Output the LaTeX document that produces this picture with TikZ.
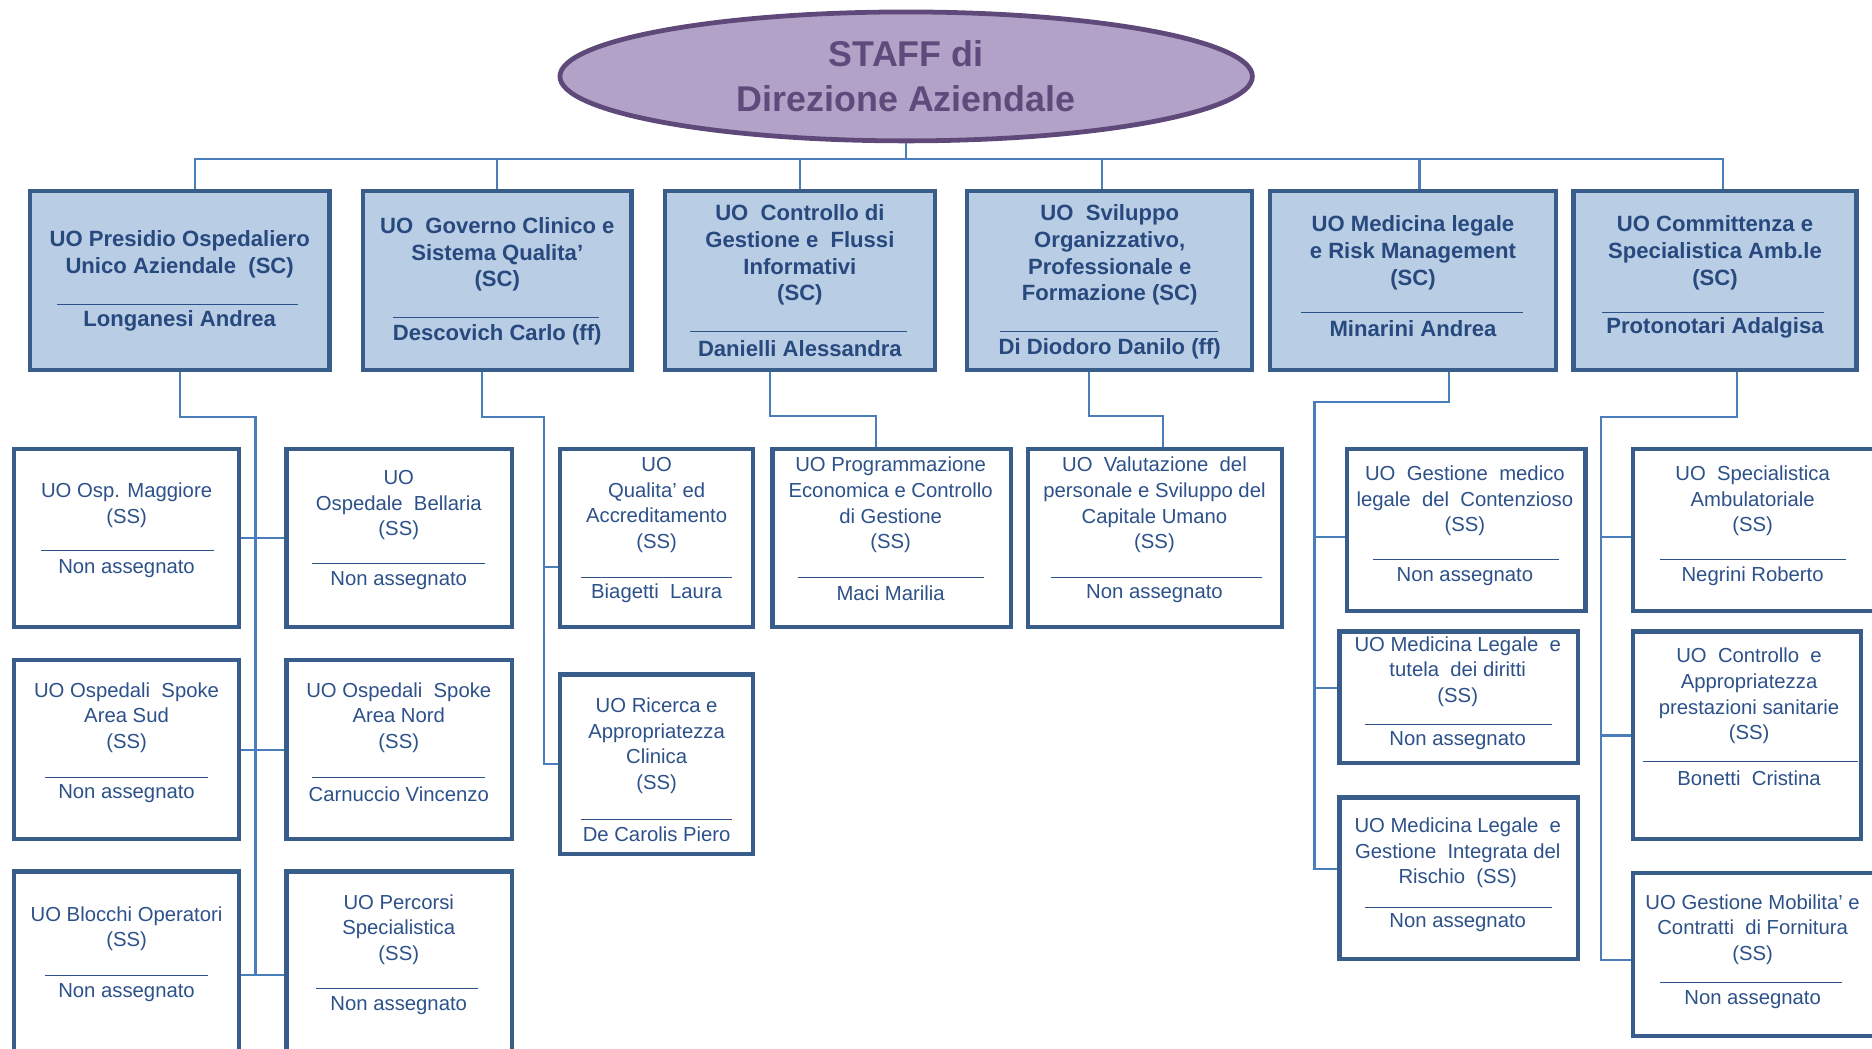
\documentclass[tikz,border=0pt]{standalone}
\usepackage{fontspec}
\setmainfont{Liberation Sans}
\usetikzlibrary{shapes}
\tikzset{>=latex}
\definecolor{boxline}{HTML}{385D8A}
\definecolor{boxfill}{HTML}{B9CDE5}
\definecolor{linkcol}{HTML}{4A7EBB}
\definecolor{sctxt}{HTML}{27497E}
\definecolor{sstxt}{HTML}{2D5189}
\definecolor{staffill}{HTML}{B2A2C7}
\definecolor{staffline}{HTML}{5F497A}
\definecolor{stafftxt}{HTML}{5F4A7C}
\tikzstyle{staff}=[ellipse,draw=staffline,fill=staffill,line width=4pt,minimum width=580pt,minimum height=108pt,text=stafftxt,align=center,font=\fontsize{30}{38}\selectfont\bfseries]
\tikzstyle{scbox}=[rectangle,draw=boxline,fill=boxfill,line width=3.5pt,minimum height=150pt]
\tikzstyle{ssbox}=[rectangle,draw=boxline,fill=white,line width=3.5pt]
\tikzstyle{sctext}=[inner sep=0pt,align=center,text=sctxt,font=\fontsize{18.5}{22.5}\selectfont\bfseries]
\tikzstyle{sstext}=[inner sep=0pt,align=center,text=sstxt,font=\fontsize{17}{21.5}\selectfont]
\tikzstyle{uolink}=[draw=linkcol,line width=1.8pt]
\tikzstyle{sepline}=[draw=sstxt,line width=0.8pt]

\begin{document}
\begin{tikzpicture}[x=1pt,y=1pt]
	\useasboundingbox (0,0) rectangle (1568,-878);
	\clip (0,0) rectangle (1568,-878);

	\node[staff] (staff) at (759,-64) {STAFF di\\Direzione Aziendale};

	\node[scbox, minimum width=251pt] (presidio) at (150.5,-235) {};
	\node[scbox, minimum width=225pt] (governo) at (416.5,-235) {};
	\node[scbox, minimum width=226pt] (controllo) at (670,-235) {};
	\node[scbox, minimum width=239pt] (sviluppo) at (929.5,-235) {};
	\node[scbox, minimum width=239pt] (medicina) at (1183.5,-235) {};
	\node[scbox, minimum width=237pt] (committenza) at (1436.5,-235) {};

	\node[sctext] (presidiot) at (150.5,-213) {UO Presidio Ospedaliero\\Unico Aziendale \ (SC)};
	\draw[sepline] (48,-255) -- (250,-255);
	\node[sctext] (presidion) at (150.5,-269) {Longanesi Andrea};
	\node[sctext] (governot) at (416.5,-213) {UO \ Governo Clinico e\\Sistema Qualita’\\(SC)};
	\draw[sepline] (329,-266) -- (502,-266);
	\node[sctext] (governon) at (416.5,-280) {Descovich Carlo (ff)};
	\node[sctext] (controllot) at (670,-213.5) {UO \ Controllo di\\Gestione e \ Flussi\\Informativi\\(SC)};
	\draw[sepline] (578,-278) -- (760,-278);
	\node[sctext] (controllon) at (670,-292) {Danielli Alessandra};
	\node[sctext] (sviluppot) at (929.5,-213.5) {UO \ Sviluppo\\Organizzativo,\\Professionale e\\Formazione (SC)};
	\draw[sepline] (838,-278) -- (1020,-278);
	\node[sctext] (sviluppon) at (929.5,-292) {Di Diodoro Danilo (ff)};
	\node[sctext] (medicinat) at (1183.5,-211.5) {UO Medicina legale\\e Risk Management\\(SC)};
	\draw[sepline] (1090,-262) -- (1276,-262);
	\node[sctext] (medicinan) at (1183.5,-275) {Minarini Andrea};
	\node[sctext] (committenzat) at (1436.5,-211.5) {UO Committenza e\\Specialistica Amb.le\\(SC)};
	\draw[sepline] (1342,-262) -- (1528,-262);
	\node[sctext] (committenzan) at (1436.5,-275) {Protonotari Adalgisa};

	\node[ssbox, minimum width=188pt, minimum height=149pt] (maggiore) at (106,-450.5) {};
	\node[sstext] (maggioret) at (106,-423) {UO Osp. Maggiore\\(SS)};
	\draw[sepline] (34,-461) -- (179,-461);
	\node[sstext] (maggioren) at (106,-476) {Non assegnato};
	\node[ssbox, minimum width=188pt, minimum height=150pt] (spokesud) at (106,-628) {};
	\node[sstext] (spokesudt) at (106,-601) {UO Ospedali \ Spoke\\Area Sud\\(SS)};
	\draw[sepline] (38,-651) -- (174,-651);
	\node[sstext] (spokesudn) at (106,-665) {Non assegnato};
	\node[ssbox, minimum width=188pt, minimum height=174pt] (blocchi) at (106,-817) {};
	\node[sstext] (blocchit) at (106,-778) {UO Blocchi Operatori\\(SS)};
	\draw[sepline] (38,-817) -- (174,-817);
	\node[sstext] (blocchin) at (106,-831) {Non assegnato};

	\node[ssbox, minimum width=189pt, minimum height=149pt] (bellaria) at (334.5,-450.5) {};
	\node[sstext] (bellariat) at (334,-423) {UO\\Ospedale \ Bellaria\\(SS)};
	\draw[sepline] (261,-472) -- (406,-472);
	\node[sstext] (bellarian) at (334,-486) {Non assegnato};
	\node[ssbox, minimum width=189pt, minimum height=150pt] (spokenord) at (334.5,-628) {};
	\node[sstext] (spokenordt) at (334,-601) {UO Ospedali \ Spoke\\Area Nord\\(SS)};
	\draw[sepline] (261,-651) -- (406,-651);
	\node[sstext] (spokenordn) at (334,-665) {Carnuccio Vincenzo};
	\node[ssbox, minimum width=189pt, minimum height=174pt] (percorsi) at (334.5,-817) {};
	\node[sstext] (percorsit) at (334,-778.5) {UO Percorsi\\Specialistica\\(SS)};
	\draw[sepline] (265,-828) -- (400,-828);
	\node[sstext] (percorsin) at (334,-842) {Non assegnato};

	\node[ssbox, minimum width=162pt, minimum height=149pt] (qualita) at (550,-450.5) {};
	\node[sstext] (qualitat) at (550,-423) {UO\\Qualita’ ed\\Accreditamento\\(SS)};
	\draw[sepline] (487,-484) -- (613,-484);
	\node[sstext] (qualitan) at (550,-497) {Biagetti \ Laura};
	\node[ssbox, minimum width=162pt, minimum height=150pt] (ricerca) at (550,-640) {};
	\node[sstext] (ricercat) at (550,-624.5) {UO Ricerca e\\Appropriatezza\\Clinica\\(SS)};
	\draw[sepline] (487,-686) -- (613,-686);
	\node[sstext] (ricercan) at (550,-699) {De Carolis Piero};

	\node[ssbox, minimum width=200pt, minimum height=149pt] (programmazione) at (747,-450.5) {};
	\node[sstext] (programmazionet) at (746,-423) {UO Programmazione\\Economica e Controllo\\di Gestione\\(SS)};
	\draw[sepline] (668,-484) -- (824,-484);
	\node[sstext] (programmazionen) at (746,-497) {Maci Marilia};
	\node[ssbox, minimum width=213pt, minimum height=149pt] (valutazione) at (967.5,-450.5) {};
	\node[sstext] (valutazionet) at (967,-423) {UO \ Valutazione \ del\\personale e Sviluppo del\\Capitale Umano\\(SS)};
	\draw[sepline] (880,-484) -- (1057,-484);
	\node[sstext] (valutazionen) at (967,-497) {Non assegnato};

	\node[ssbox, minimum width=200pt, minimum height=136pt] (contenzioso) at (1228,-444) {};
	\node[sstext] (contenziosot) at (1227,-419.5) {UO \ Gestione \ medico\\legale \ del \ Contenzioso\\(SS)};
	\draw[sepline] (1150,-469) -- (1306,-469);
	\node[sstext] (contenzioson) at (1227,-483) {Non assegnato};
	\node[ssbox, minimum width=200pt, minimum height=110pt] (tutela) at (1222,-584) {};
	\node[sstext] (tutelat) at (1221,-562.5) {UO Medicina Legale \ e\\tutela \ dei diritti\\(SS)};
	\draw[sepline] (1143,-607) -- (1300,-607);
	\node[sstext] (tutelan) at (1221,-620) {Non assegnato};
	\node[ssbox, minimum width=200pt, minimum height=135pt] (rischio) at (1222,-735.5) {};
	\node[sstext] (rischiot) at (1221,-714.5) {UO Medicina Legale \ e\\Gestione \ Integrata del\\Rischio \ (SS)};
	\draw[sepline] (1143,-760) -- (1300,-760);
	\node[sstext] (rischion) at (1221,-773) {Non assegnato};

	\node[ssbox, minimum width=202pt, minimum height=136pt] (ambulatoriale) at (1469,-444) {};
	\node[sstext] (ambulatorialet) at (1468,-419.5) {UO \ Specialistica\\Ambulatoriale\\(SS)};
	\draw[sepline] (1390,-469) -- (1546,-469);
	\node[sstext] (ambulatorialen) at (1468,-483) {Negrini Roberto};
	\node[ssbox, minimum width=191pt, minimum height=174pt] (appropriatezza) at (1463.5,-616) {};
	\node[sstext] (appropriatezzat) at (1465,-583) {UO \ Controllo \ e\\Appropriatezza\\prestazioni sanitarie\\(SS)};
	\draw[sepline] (1376,-638) -- (1556,-638);
	\node[sstext] (appropriatezzan) at (1465,-652) {Bonetti \ Cristina};
	\node[ssbox, minimum width=202pt, minimum height=137pt] (mobilita) at (1469,-799.5) {};
	\node[sstext] (mobilitat) at (1468,-778.5) {UO Gestione Mobilita’ e\\Contratti \ di Fornitura\\(SS)};
	\draw[sepline] (1390,-823) -- (1543,-823);
	\node[sstext] (mobilitan) at (1468,-837) {Non assegnato};

	\coordinate (bus) at (759,-133);
	\draw[uolink] (staff.south) -- (bus);
	\draw[uolink] (bus) -| ([xshift=12.5pt]presidio.north);
	\draw[uolink] (bus) -| (governo.north);
	\draw[uolink] (bus) -| (controllo.north);
	\draw[uolink] (bus) -| ([xshift=-6.5pt]sviluppo.north);
	\draw[uolink] (bus) -| ([xshift=5.5pt]medicina.north);
	\draw[uolink] (bus) -| ([xshift=6.5pt]committenza.north);

	\coordinate (p1) at (214,-349);
	\draw[uolink] (presidio.south) |- (p1) -- (p1 |- blocchi.east);
	\draw[uolink] (maggiore.east) -- (bellaria.west);
	\draw[uolink] (spokesud.east) -- (spokenord.west);
	\draw[uolink] (blocchi.east) -- (percorsi.west);

	\coordinate (g1) at (456,-349);
	\draw[uolink] ([xshift=-12.5pt]governo.south) |- (g1) |- (ricerca.west);
	\draw[uolink] (g1) |- ([yshift=-24.5pt]qualita.west);

	\draw[uolink] ([xshift=-25pt]controllo.south) -- ++(0,-37) -| ([xshift=-13pt]programmazione.north);
	\draw[uolink] ([xshift=-17.5pt]sviluppo.south) -- ++(0,-37) -| ([xshift=6.5pt]valutazione.north);

	\coordinate (m1) at (1101,-337);
	\draw[uolink] ([xshift=30.5pt]medicina.south) |- (m1) |- ([yshift=7.5pt]rischio.west);
	\draw[uolink] (m1) |- ([yshift=-6pt]contenzioso.west);
	\draw[uolink] (m1) |- ([yshift=8pt]tutela.west);

	\coordinate (c1) at (1341,-349);
	\draw[uolink] ([xshift=18.5pt]committenza.south) |- (c1) |- ([yshift=-4.5pt]mobilita.west);
	\draw[uolink] (c1) |- ([yshift=-6pt]ambulatoriale.west);
	\draw[uolink] (c1) |- (appropriatezza.west);

\end{tikzpicture}
\end{document}
